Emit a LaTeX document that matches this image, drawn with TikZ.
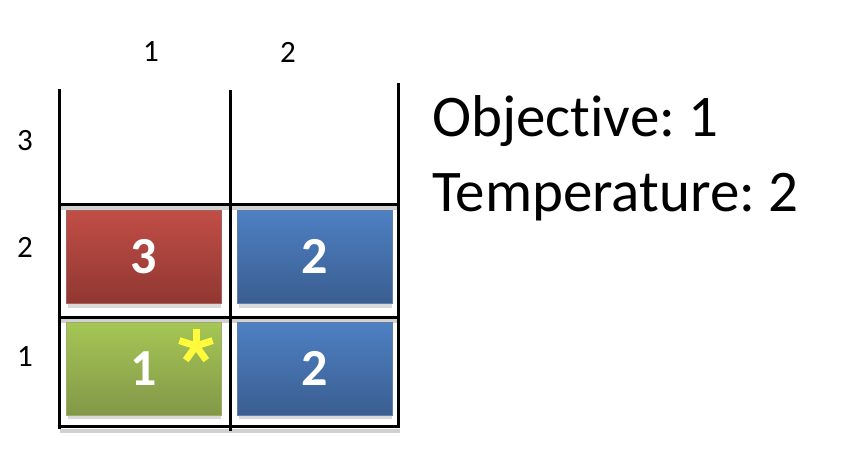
\documentclass[tikz,border=0pt]{standalone}
\usepackage{fontspec}
\setmainfont[Ligatures=NoCommon]{Carlito}
\frenchspacing
\begin{document}
\begin{tikzpicture}[x=1pt,y=-1pt,
  gridline/.style={line width=3pt,black},
  shadowline/.style={line width=4pt,black!18},
  cell/.style={minimum width=155pt,minimum height=93pt,inner sep=0pt,
     font=\fontsize{52}{52}\selectfont\bfseries,text=white},
  redcell/.style={cell,top color=redtop,bottom color=redbot,draw=redbot!80,line width=0.5pt},
  bluecell/.style={cell,top color=bluetop,bottom color=bluebot,draw=bluebot!80,line width=0.5pt},
  greencell/.style={cell,top color=greentop,bottom color=greenbot,draw=greenbot!80,line width=0.5pt},
  axlabel/.style={font=\fontsize{31}{31}\selectfont},
  infotext/.style={font=\fontsize{59}{59}\selectfont,anchor=base west},
  stararm/.style={line width=7pt,staryellow}]
\definecolor{redtop}{RGB}{193,78,71}
\definecolor{redbot}{RGB}{145,55,50}
\definecolor{bluetop}{RGB}{78,128,195}
\definecolor{bluebot}{RGB}{58,94,145}
\definecolor{greentop}{RGB}{166,198,85}
\definecolor{greenbot}{RGB}{130,152,72}
\definecolor{staryellow}{RGB}{255,250,60}
\useasboundingbox (0,0) rectangle (844,464);
% box shadows
\fill[black!15] (68,303) rectangle (221,308);
\fill[black!15] (239,303) rectangle (392,308);
\fill[black!15] (68,414) rectangle (221,419);
\fill[black!15] (239,414) rectangle (392,419);
% gray shadow lines under horizontals
\draw[shadowline] (60,208) -- (398,208);
\draw[shadowline] (60,321) -- (398,321);
\draw[shadowline] (60,431) -- (400,431);
% cells
\node[redcell] (c12) at (143.5,256.5) {3};
\node[bluecell] (c22) at (314.5,256.5) {2};
\node[greencell] (c11) at (143.5,368.5) {1};
\node[bluecell] (c21) at (314.5,368.5) {2};
% star
\coordinate (starc) at (196,346);
\foreach \a in {-90,-18,-162,54,126}
  \draw[stararm] (starc) -- ++(\a:17.5);
\fill[staryellow] (starc) circle (5pt);
% grid
\draw[gridline] (59,89) -- (59,429);
\draw[gridline] (230,90) -- (230,431);
\draw[gridline] (398,83) -- (398,428);
\draw[gridline] (58,204) -- (399,204);
\draw[gridline] (58,317) -- (399,317);
\draw[gridline] (58,426) -- (399,426);
% axis labels
\node[axlabel] (x1) at (151,52) {1};
\node[axlabel] (x2) at (288,52) {2};
\node[axlabel] (y3) at (25,141) {3};
\node[axlabel] (y2) at (25,247) {2};
\node[axlabel] (y1) at (25,357) {1};
% info
\node[infotext,inner sep=0pt] (obj) at (432,136) {Objective: 1};
\node[infotext,inner sep=0pt] (temp) at (432,211) {Temperature: 2};
\end{tikzpicture}
\end{document}
